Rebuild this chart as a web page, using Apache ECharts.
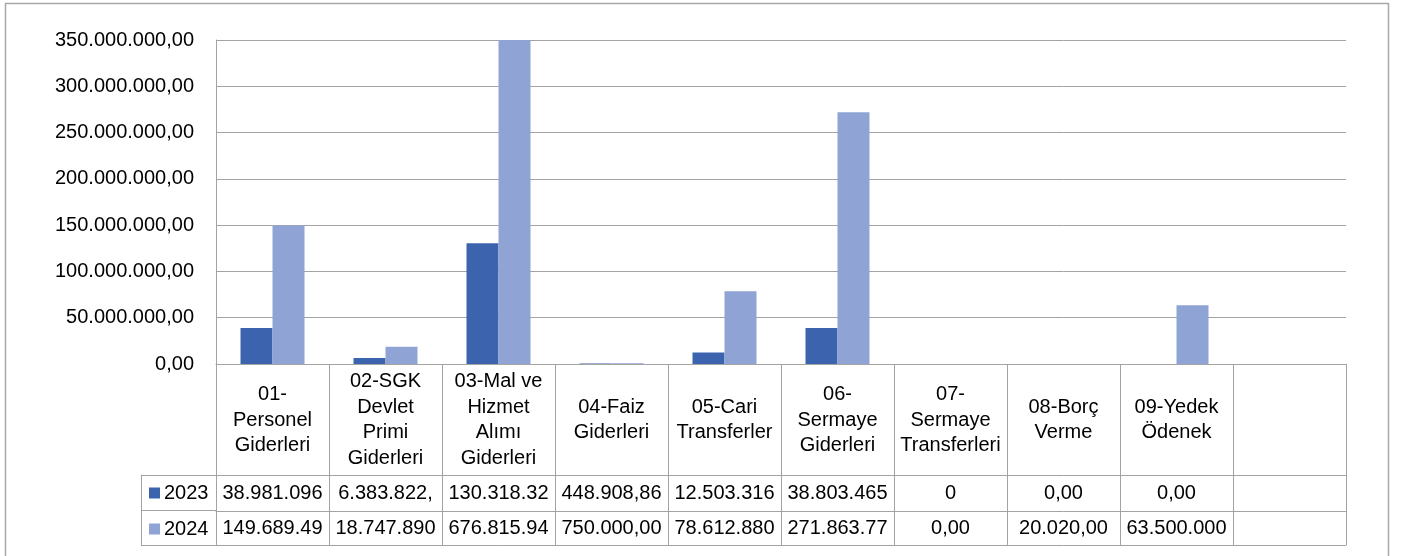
<!DOCTYPE html>
<html lang="tr">
<head>
    <meta charset="UTF-8">
    <title>Giderler 2023 - 2024</title>
    <script type="text/javascript" src="https://cdn.jsdelivr.net/npm/echarts@6/dist/echarts.min.js"></script>
    <style>
        body { margin: 0; background: #fff; }
    </style>
</head>
<body>
    <div id="main" style="width: 1405px; height: 556px"></div>
    <script type="text/javascript">
        // kategoriler (tablo başlıkları)
        var categories = [
            '01-\nPersonel\nGiderleri',
            '02-SGK\nDevlet\nPrimi\nGiderleri',
            '03-Mal ve\nHizmet\nAlımı\nGiderleri',
            '04-Faiz\nGiderleri',
            '05-Cari\nTransferler',
            '06-\nSermaye\nGiderleri',
            '07-\nSermaye\nTransferleri',
            '08-Borç\nVerme',
            '09-Yedek\nÖdenek',
            ''
        ];
        var seriesNames = ['2023', '2024'];

        // bar values
        var values2023 = [38981096, 6383822, 130318320, 448908.86, 12503316, 38803465, 0, 0, 0, null];
        var values2024 = [149689490, 18747890, 676815940, 750000, 78612880, 271863770, 0, 20020, 63500000, null];

        // data table text as it appears (cut off by the cell width)
        var text2023 = ['38.981.096', '6.383.822,', '130.318.32', '448.908,86', '12.503.316', '38.803.465', '0', '0,00', '0,00', ''];
        var text2024 = ['149.689.49', '18.747.890', '676.815.94', '750.000,00', '78.612.880', '271.863.77', '0,00', '20.020,00', '63.500.000', ''];

        var yMax = 350000000;
        var yStep = 50000000;

        var FONT = 'Liberation Sans';
        var LINE = '#a3a3a3';
        var colors = ['#3c64ae', '#8fa4d4'];

        function trNumber(v) {
            var parts = v.toFixed(2).split('.');
            var intPart = parts[0].replace(/\B(?=(\d{3})+(?!\d))/g, '.');
            return intPart + ',' + parts[1];
        }

        var myChart = echarts.init(document.getElementById('main'));

        myChart.setOption({
            animation: false,
            color: colors,
            textStyle: { fontFamily: FONT },
            graphic: [{
                type: 'rect',
                shape: { x: 5.5, y: 3.5, width: 1383, height: 600 },
                style: { fill: 'none', stroke: '#a8a8a8', lineWidth: 1.5 },
                silent: true
            }],
            legend: {
                data: seriesNames,
                orient: 'vertical',
                left: 149,
                top: 482,
                padding: 0,
                itemWidth: 11,
                itemHeight: 11,
                itemGap: 14,
                icon: 'rect',
                itemStyle: { borderWidth: 0 },
                textStyle: { fontFamily: FONT, fontSize: 20, color: '#000', lineHeight: 22, padding: [0, 0, 0, -1] },
                selectedMode: false
            },
            grid: [
                { left: 216, right: 59, top: 40, bottom: 192 },
                { left: 141, width: 75, top: 475, height: 70 }
            ],
            xAxis: [
                {
                    type: 'category',
                    gridIndex: 0,
                    data: categories,
                    position: 'bottom',
                    axisLine: { show: true, lineStyle: { color: LINE, width: 1 } },
                    axisTick: { show: true, interval: 0, length: 181, lineStyle: { color: LINE } },
                    axisLabel: {
                        interval: 0,
                        margin: 56,
                        verticalAlign: 'middle',
                        lineHeight: 25.5,
                        fontSize: 20,
                        fontFamily: FONT,
                        color: '#000',
                        align: 'center'
                    },
                    splitLine: { show: false }
                },
                {
                    type: 'category',
                    gridIndex: 0,
                    data: text2023,
                    position: 'bottom',
                    offset: 111,
                    axisLine: { show: true, lineStyle: { color: LINE } },
                    axisTick: { show: false },
                    axisLabel: {
                        interval: 0,
                        margin: 18,
                        verticalAlign: 'middle',
                        fontSize: 20,
                        fontFamily: FONT,
                        color: '#000'
                    }
                },
                {
                    type: 'category',
                    gridIndex: 0,
                    data: text2024,
                    position: 'bottom',
                    offset: 147,
                    axisLine: { show: true, lineStyle: { color: LINE } },
                    axisTick: { show: false },
                    axisLabel: {
                        interval: 0,
                        margin: 17,
                        verticalAlign: 'middle',
                        fontSize: 20,
                        fontFamily: FONT,
                        color: '#000'
                    }
                },
                {
                    type: 'category',
                    gridIndex: 0,
                    data: categories,
                    position: 'bottom',
                    offset: 181,
                    axisLine: { show: true, lineStyle: { color: LINE } },
                    axisTick: { show: false },
                    axisLabel: { show: false }
                },
                {
                    type: 'value',
                    gridIndex: 1,
                    show: false
                }
            ],
            yAxis: [
                {
                    type: 'value',
                    gridIndex: 0,
                    min: 0,
                    max: yMax,
                    interval: yStep,
                    axisLine: { show: true, lineStyle: { color: LINE } },
                    axisTick: { show: false },
                    axisLabel: {
                        margin: 22,
                        fontSize: 20,
                        fontFamily: FONT,
                        color: '#000',
                        formatter: trNumber
                    },
                    splitLine: { show: true, lineStyle: { color: LINE, width: 1 } }
                },
                {
                    type: 'category',
                    gridIndex: 1,
                    data: seriesNames,
                    inverse: true,
                    axisLine: { show: true, lineStyle: { color: LINE } },
                    axisTick: { show: false },
                    axisLabel: { show: false },
                    splitLine: { show: true, interval: 0, lineStyle: { color: LINE } }
                }
            ],
            series: [
                {
                    name: seriesNames[0],
                    type: 'bar',
                    xAxisIndex: 0,
                    yAxisIndex: 0,
                    data: values2023,
                    barWidth: 32,
                    barGap: '0%',
                    clip: true,
                    itemStyle: { color: colors[0] }
                },
                {
                    name: seriesNames[1],
                    type: 'bar',
                    xAxisIndex: 0,
                    yAxisIndex: 0,
                    data: values2024,
                    barWidth: 32,
                    barGap: '0%',
                    clip: true,
                    itemStyle: { color: colors[1] }
                }
            ]
        });
    </script>
</body>
</html>
